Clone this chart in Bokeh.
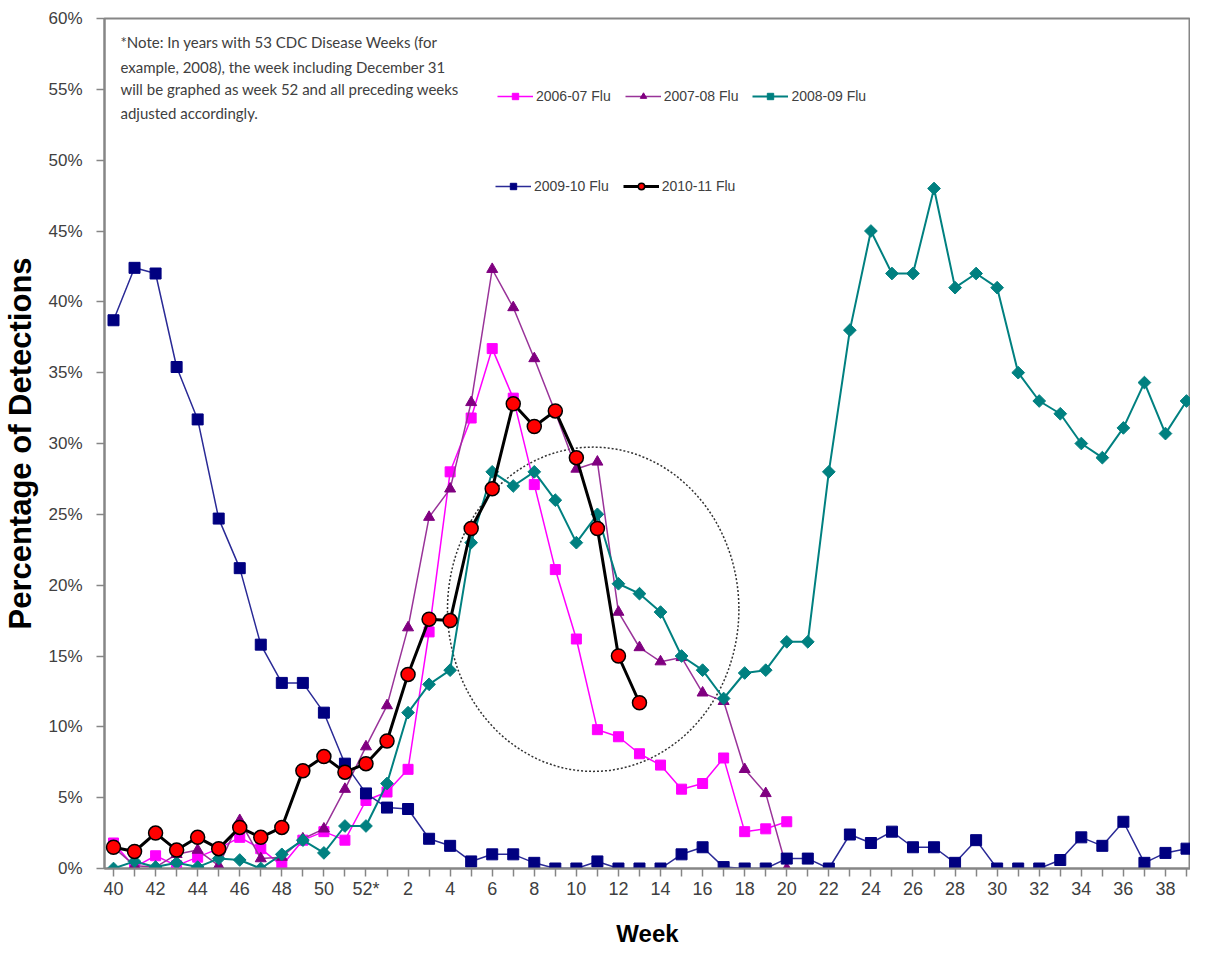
from math import pi
from bokeh.plotting import figure
from bokeh.models import Range1d, FixedTicker, Legend, LegendItem, Label
from bokeh.embed import file_html
from bokeh.resources import INLINE

# ---------------- data ----------------
WEEKS = [40, 41, 42, 43, 44, 45, 46, 47, 48, 49, 50, 51, 52,
         1, 2, 3, 4, 5, 6, 7, 8, 9, 10, 11, 12, 13, 14, 15, 16, 17, 18, 19, 20,
         21, 22, 23, 24, 25, 26, 27, 28, 29, 30, 31, 32, 33, 34, 35, 36, 37, 38, 39]
WEEK_LABELS = ["40", "41", "42", "43", "44", "45", "46", "47", "48", "49", "50", "51", "52*",
               "1", "2", "3", "4", "5", "6", "7", "8", "9", "10", "11", "12", "13", "14",
               "15", "16", "17", "18", "19", "20", "21", "22", "23", "24", "25", "26", "27",
               "28", "29", "30", "31", "32", "33", "34", "35", "36", "37", "38", "39"]
Y_TICKS = [0, 5, 10, 15, 20, 25, 30, 35, 40, 45, 50, 55, 60]

# % of detections, starting at week 40
FLU_2006_07 = [1.8, 0.1, 0.9, 0.2, 0.8, 1.4, 2.2, 1.4, 0.2, 2.0, 2.6, 2.0, 4.8,
               5.4, 7.0, 16.7, 28.0, 31.8, 36.7, 33.2, 27.1, 21.1, 16.2, 9.8, 9.3,
               8.1, 7.3, 5.6, 6.0, 7.8, 2.6, 2.8, 3.3]
FLU_2007_08 = [1.5, 0.2, 0.1, 1.0, 1.3, 0.2, 3.4, 0.7, 0.8, 2.1, 2.8, 5.6, 8.6,
               11.5, 17.0, 24.8, 26.8, 32.9, 42.3, 39.6, 36.0, 32.2, 28.2, 28.7, 18.1,
               15.6, 14.6, 14.9, 12.4, 11.8, 7.0, 5.3, 0.0]
FLU_2008_09 = [0.0, 0.5, 0.1, 0.4, 0.1, 0.7, 0.6, 0.0, 1.0, 2.0, 1.1, 3.0, 3.0,
               6.0, 11.0, 13.0, 14.0, 23.0, 28.0, 27.0, 28.0, 26.0, 23.0, 25.0, 20.1,
               19.4, 18.1, 15.0, 14.0, 12.0, 13.8, 14.0, 16.0, 16.0, 28.0, 38.0, 45.0,
               42.0, 42.0, 48.0, 41.0, 42.0, 41.0, 35.0, 33.0, 32.1, 30.0, 29.0, 31.1,
               34.3, 30.7, 33.0]
FLU_2009_10 = [38.7, 42.4, 42.0, 35.4, 31.7, 24.7, 21.2, 15.8, 13.1, 13.1, 11.0, 7.4, 5.3,
               4.3, 4.2, 2.1, 1.6, 0.5, 1.0, 1.0, 0.4, 0.0, 0.0, 0.5, 0.0,
               0.0, 0.0, 1.0, 1.5, 0.1, 0.0, 0.0, 0.7, 0.7, 0.0, 2.4, 1.8,
               2.6, 1.5, 1.5, 0.4, 2.0, 0.0, 0.0, 0.0, 0.6, 2.2, 1.6, 3.3,
               0.4, 1.1, 1.4]
FLU_2010_11 = [1.5, 1.2, 2.5, 1.3, 2.2, 1.4, 2.9, 2.2, 2.9, 6.9, 7.9, 6.8, 7.4,
               9.0, 13.7, 17.6, 17.5, 24.0, 26.8, 32.8, 31.2, 32.3, 29.0, 24.0, 15.0, 11.7]

SERIES_NAMES = ["2006-07 Flu", "2007-08 Flu", "2008-09 Flu", "2009-10 Flu", "2010-11 Flu"]

NOTE_LINES = ["*Note: In years with 53 CDC Disease Weeks (for",
              "example, 2008), the week including December 31",
              "will be graphed as week 52 and all preceding weeks",
              "adjusted accordingly."]

# dotted highlight circle (week index / percent units)
HIGHLIGHT_X = 22.8
HIGHLIGHT_Y = 18.3
HIGHLIGHT_W = 13.85
HIGHLIGHT_H = 22.9

# ---------------- figure ----------------
idx = list(range(len(WEEKS)))
TXT = "#404040"
AXC = "#868686"
FONT = "Liberation Sans"

p = figure(width=1190, height=950, output_backend="svg", toolbar_location=None,
           x_range=Range1d(-0.428, 51.19), y_range=Range1d(0, 60),
           min_border_left=104, min_border_right=0, min_border_top=18, min_border_bottom=82)
p.background_fill_color = "white"
p.border_fill_color = "white"
p.outline_line_color = AXC
p.outline_line_width = 2
p.xgrid.visible = False
p.ygrid.visible = False

# x axis
p.xaxis.ticker = FixedTicker(ticks=idx)
p.xaxis.major_label_overrides = {i: (WEEK_LABELS[i] if i % 2 == 0 else "") for i in idx}
p.xaxis.minor_tick_line_color = None
p.xaxis.major_tick_out = 8
p.xaxis.major_tick_in = 0
p.xaxis.major_label_standoff = 2
p.xaxis.axis_label = "Week"
p.xaxis.axis_label_standoff = 18
# y axis
p.yaxis.ticker = FixedTicker(ticks=Y_TICKS)
p.yaxis.major_label_overrides = {v: f"{v}%" for v in Y_TICKS}
p.yaxis.minor_tick_line_color = None
p.yaxis.major_tick_out = 8
p.yaxis.major_tick_in = 0
p.yaxis.major_label_standoff = 14
p.yaxis.axis_label = "Percentage of Detections"
p.yaxis.axis_label_standoff = 7

for ax in (p.xaxis, p.yaxis):
    ax.axis_line_color = AXC
    ax.axis_line_width = 2
    ax.major_tick_line_color = AXC
    ax.major_tick_line_width = 1.5
    ax.major_label_text_font = FONT
    ax.major_label_text_color = TXT
    ax.axis_label_text_font = FONT
    ax.axis_label_text_font_style = "bold"
    ax.axis_label_text_color = "black"
p.xaxis.major_label_text_font_size = "18px"
p.yaxis.major_label_text_font_size = "17px"
p.xaxis.axis_label_text_font_size = "24px"
p.yaxis.axis_label_text_font_size = "31px"

# highlight ellipse
p.ellipse(x=[HIGHLIGHT_X], y=[HIGHLIGHT_Y], width=HIGHLIGHT_W, height=HIGHLIGHT_H,
          fill_color=None, line_color="#333333", line_dash="2 2", line_width=1.5)

# 2006-07
l1 = p.line(idx[:len(FLU_2006_07)], FLU_2006_07, line_color="#FF00FF", line_width=1.5)
s1 = p.scatter(idx[:len(FLU_2006_07)], FLU_2006_07, marker="square", size=10,
               fill_color="#FF00FF", line_color="#FF00FF")
# 2007-08
l2 = p.line(idx[:len(FLU_2007_08)], FLU_2007_08, line_color="#993399", line_width=1.5)
s2 = p.scatter(idx[:len(FLU_2007_08)], FLU_2007_08, marker="triangle", size=11,
               fill_color="#800080", line_color="#800080")
# 2008-09
l3 = p.line(idx[:len(FLU_2008_09)], FLU_2008_09, line_color="#008080", line_width=2)
s3 = p.scatter(idx[:len(FLU_2008_09)], FLU_2008_09, marker="square", size=9, angle=pi / 4,
               fill_color="#008080", line_color="#008080")
# 2009-10
l4 = p.line(idx[:len(FLU_2009_10)], FLU_2009_10, line_color="#2a2a96", line_width=1.5)
s4 = p.scatter(idx[:len(FLU_2009_10)], FLU_2009_10, marker="square", size=11,
               fill_color="#000080", line_color="#000080")
# 2010-11
l5 = p.line(idx[:len(FLU_2010_11)], FLU_2010_11, line_color="black", line_width=3)
s5 = p.scatter(idx[:len(FLU_2010_11)], FLU_2010_11, marker="circle", size=14,
               fill_color="#FF0000", line_color="black", line_width=1.5)

pairs = [(l1, s1), (l2, s2), (l3, s3), (l4, s4), (l5, s5)]


def make_legend(items, loc):
    lg = Legend(items=items, location=loc, orientation="horizontal",
                background_fill_alpha=0, border_line_alpha=0,
                padding=0, margin=0, spacing=14,
                glyph_width=36, glyph_height=16, label_height=16, label_standoff=3,
                label_text_font=FONT, label_text_font_size="14px", label_text_color=TXT)
    p.add_layout(lg)


make_legend([LegendItem(label=SERIES_NAMES[i], renderers=list(pairs[i])) for i in range(3)], (393, 764))
make_legend([LegendItem(label=SERIES_NAMES[i], renderers=list(pairs[i])) for i in range(3, 5)], (391, 674))

# note text
NOTE_Y = [58.31, 56.61, 54.99, 53.36]
for line, ny in zip(NOTE_LINES, NOTE_Y):
    p.add_layout(Label(x=0.33, y=ny, text=line, text_font="Lato", text_font_size="15px",
                       text_color=TXT, text_baseline="middle", text_align="left"))

open("out.html", "w").write(file_html(p, INLINE))
